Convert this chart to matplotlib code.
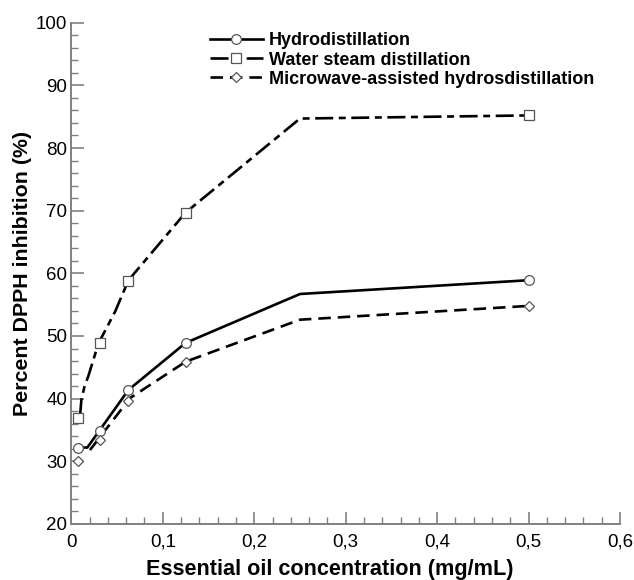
import matplotlib
matplotlib.use("Agg")
import matplotlib.pyplot as plt
from matplotlib.lines import Line2D
from matplotlib.ticker import MultipleLocator, FuncFormatter

plt.rcParams["font.family"] = ["Liberation Sans", "DejaVu Sans"]
plt.rcParams["lines.scale_dashes"] = False

# measured points (markers)
conc = [0.0078, 0.031, 0.0625, 0.125, 0.5]
hydro = [32.2, 34.9, 41.4, 48.9, 58.9]
steam = [36.9, 48.9, 58.8, 69.7, 85.2]
micro = [30.0, 33.4, 39.7, 45.9, 54.8]

# fitted curves (lines)
hydro_fit_x = [0.0125, 0.0175, 0.0625, 0.125, 0.25, 0.5]
hydro_fit_y = [32.2, 32.2, 41.4, 48.9, 56.7, 58.9]
steam_fit_x = [0.0095, 0.011, 0.0145, 0.0186, 0.0296, 0.0479, 0.0625, 0.125, 0.25, 0.5]
steam_fit_y = [37.2, 39.8, 42.0, 43.6, 48.8, 53.9, 58.9, 69.7, 84.7, 85.2]
micro_fit_x = [0.0204, 0.0643, 0.125, 0.25, 0.5]
micro_fit_y = [31.8, 40.1, 45.9, 52.6, 54.8]

labels = ["Hydrodistillation", "Water steam distillation",
          "Microwave-assisted hydrosdistillation"]

fig = plt.figure(figsize=(6.34, 5.8), dpi=100)
ax = fig.add_axes([0.1125, 0.0966, 0.8655, 0.8643])

lw = 1.9
steam_dash = (0, (13, 4, 5, 4))
micro_dash = (0, (9, 5))
mk = dict(linestyle="none", markerfacecolor="white", markeredgecolor="#555555",
          markeredgewidth=0.9, zorder=3)

ax.plot(hydro_fit_x, hydro_fit_y, color="black", lw=lw, linestyle="-")
ax.plot(steam_fit_x, steam_fit_y, color="black", lw=lw, linestyle=steam_dash)
ax.plot(micro_fit_x, micro_fit_y, color="black", lw=lw, linestyle=micro_dash)

ax.plot(conc, hydro, marker="o", markersize=7, **mk)
ax.plot(conc, steam, marker="s", markersize=7.5, **mk)
ax.plot(conc, micro, marker="D", markersize=5, **mk)

handles = [
    Line2D([], [], color="black", lw=lw, linestyle="-", marker="o", markersize=7,
           markerfacecolor="white", markeredgecolor="#555555", markeredgewidth=0.9),
    Line2D([], [], color="black", lw=lw, linestyle=steam_dash, marker="s", markersize=7,
           markerfacecolor="white", markeredgecolor="#555555", markeredgewidth=0.9),
    Line2D([], [], color="black", lw=lw, linestyle=micro_dash, marker="D", markersize=5,
           markerfacecolor="white", markeredgecolor="#555555", markeredgewidth=0.9),
]
ax.legend(handles, labels, loc="upper left", bbox_to_anchor=(0.24, 0.995),
          frameon=False, handlelength=2.9, handletextpad=0.35, labelspacing=0.12,
          borderaxespad=0, prop={"weight": "bold", "size": 13})

ax.set_xlim(0, 0.6)
ax.set_ylim(20, 100)
ax.xaxis.set_major_locator(MultipleLocator(0.1))
ax.xaxis.set_minor_locator(MultipleLocator(0.02))
ax.yaxis.set_major_locator(MultipleLocator(10))
ax.yaxis.set_minor_locator(MultipleLocator(2))
ax.xaxis.set_major_formatter(FuncFormatter(lambda v, p: "0" if abs(v) < 1e-9 else f"{v:.1f}".replace(".", ",")))

for side in ["top", "right"]:
    ax.spines[side].set_visible(False)
for side in ["left", "bottom"]:
    ax.spines[side].set_color("#808080")
    ax.spines[side].set_linewidth(1.4)

ax.tick_params(which="both", direction="in", color="#808080", labelsize=13.5)
ax.tick_params(which="major", length=9, width=1.2)
ax.tick_params(which="minor", length=5, width=1.0)
ax.tick_params(axis="x", pad=7)
ax.tick_params(axis="y", pad=3)

ax.set_xlabel("Essential oil concentration (mg/mL)", fontsize=15.6, fontweight="bold")
ax.set_ylabel("Percent DPPH inhibition (%)", fontsize=15.4, fontweight="bold")
ax.xaxis.set_label_coords(0.4715, -0.07)
ax.yaxis.set_label_coords(-0.072, 0.5)

fig.savefig("out.png", dpi=100)
